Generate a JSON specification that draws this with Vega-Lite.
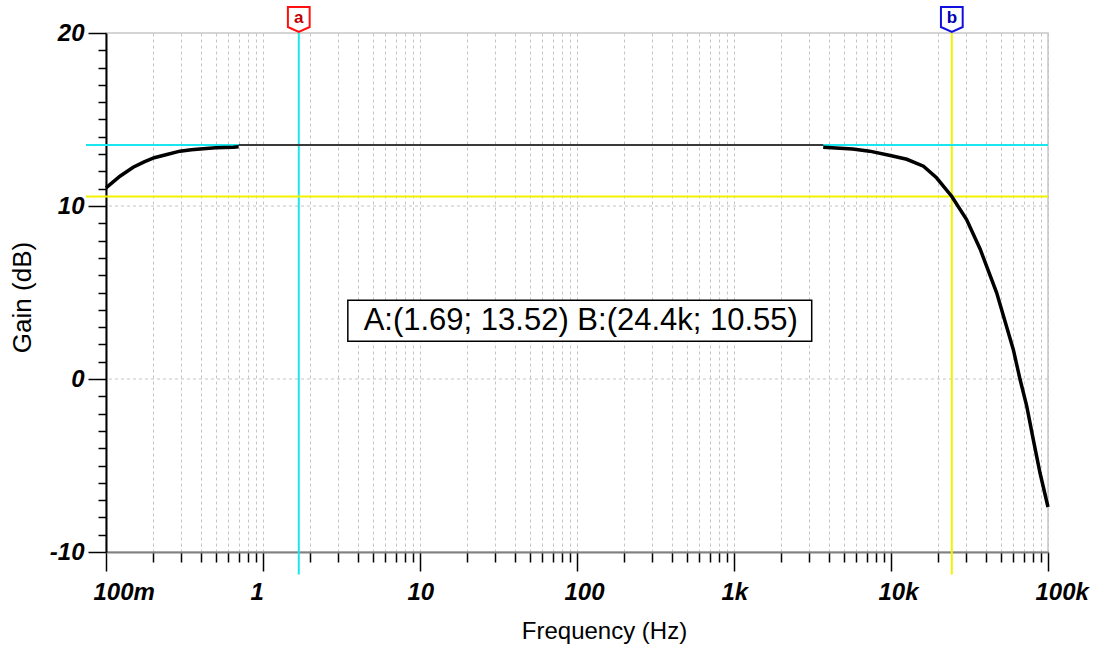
{
  "$schema": "https://vega.github.io/schema/vega-lite/v6.json",
  "autosize": "none",
  "width": 942,
  "height": 519,
  "padding": {"left": 106, "top": 33, "right": 46, "bottom": 96},
  "background": "white",
  "config": {
    "view": {"stroke": "#c8c8c8", "strokeWidth": 1.5},
    "font": "Liberation Sans"
  },
  "datasets": {
    "curve": [
      {"f": 0.1, "gain": 11.05, "part": "low"},
      {"f": 0.1227, "gain": 11.72, "part": "low"},
      {"f": 0.149, "gain": 12.24, "part": "low"},
      {"f": 0.175, "gain": 12.55, "part": "low"},
      {"f": 0.203, "gain": 12.79, "part": "low"},
      {"f": 0.244, "gain": 12.98, "part": "low"},
      {"f": 0.296, "gain": 13.17, "part": "low"},
      {"f": 0.35, "gain": 13.25, "part": "low"},
      {"f": 0.397, "gain": 13.3, "part": "low"},
      {"f": 0.5, "gain": 13.36, "part": "low"},
      {"f": 0.647, "gain": 13.4, "part": "low"},
      {"f": 0.7, "gain": 13.42, "part": "low"},
      {"f": 0.7, "gain": 13.52, "part": "mid"},
      {"f": 1.69, "gain": 13.52, "part": "mid"},
      {"f": 100, "gain": 13.52, "part": "mid"},
      {"f": 1000, "gain": 13.52, "part": "mid"},
      {"f": 3700, "gain": 13.52, "part": "mid"},
      {"f": 3700, "gain": 13.4, "part": "high"},
      {"f": 5700, "gain": 13.3, "part": "high"},
      {"f": 7300, "gain": 13.17, "part": "high"},
      {"f": 9900, "gain": 12.92, "part": "high"},
      {"f": 12600, "gain": 12.7, "part": "high"},
      {"f": 16100, "gain": 12.3, "part": "high"},
      {"f": 19500, "gain": 11.63, "part": "high"},
      {"f": 24400, "gain": 10.55, "part": "high"},
      {"f": 30300, "gain": 9.22, "part": "high"},
      {"f": 37000, "gain": 7.5, "part": "high"},
      {"f": 47100, "gain": 4.98, "part": "high"},
      {"f": 60100, "gain": 1.71, "part": "high"},
      {"f": 66400, "gain": -0.03, "part": "high"},
      {"f": 73200, "gain": -1.57, "part": "high"},
      {"f": 80600, "gain": -3.5, "part": "high"},
      {"f": 88900, "gain": -5.42, "part": "high"},
      {"f": 100000, "gain": -7.4, "part": "high"}
    ],
    "cursors": [
      {"cursor": "a", "f": 1.69, "gain": 13.52},
      {"cursor": "b", "f": 24400, "gain": 10.55}
    ],
    "hgrid": [
      {"gain": 0},
      {"gain": 10}
    ]
  },
  "layer": [
    {
      "data": {"name": "curve"},
      "transform": [{"filter": "datum.part == 'mid'"}],
      "mark": {"type": "line", "color": "#3a3a3a", "strokeWidth": 2, "opacity": 0},
      "encoding": {
        "x": {
          "field": "f", "type": "quantitative",
          "scale": {"type": "log", "domain": [0.1, 100000], "nice": false},
          "axis": {
            "title": "Frequency (Hz)",
            "values": [0.1,0.2,0.3,0.4,0.5,0.6,0.7,0.8,0.9,1,2,3,4,5,6,7,8,9,10,20,30,40,50,60,70,80,90,100,200,300,400,500,600,700,800,900,1000,2000,3000,4000,5000,6000,7000,8000,9000,10000,20000,30000,40000,50000,60000,70000,80000,90000,100000],
            "labelExpr": "abs(log(datum.value)/LN10 - round(log(datum.value)/LN10)) < 0.001 ? (datum.value < 0.5 ? '100m' : datum.value >= 1000 ? format(datum.value/1000, 'd') + 'k' : format(datum.value, 'd')) : ''",
            "labelOverlap": false,
            "labelBound": false,
            "labelFlush": false,
            "labelAlign": "left",
            "labelOffset": -13,
            "labelFont": "Liberation Sans",
            "labelFontSize": 24,
            "labelFontWeight": "bold",
            "labelFontStyle": "italic",
            "labelColor": "black",
            "labelPadding": 9,
            "tickColor": "black",
            "tickWidth": 1.5,
            "tickSize": {"condition": {"test": "abs(log(datum.value)/LN10 - round(log(datum.value)/LN10)) < 0.001", "value": 19}, "value": 10},
            "domainColor": "#808080",
            "domainWidth": 2,
            "grid": true,
            "gridColor": "#c4c4c4",
            "gridDash": [3, 3],
            "gridWidth": 1,
            "titleFont": "Liberation Sans",
            "titleFontSize": 24,
            "titleFontWeight": "normal",
            "titleColor": "black",
            "titleX": 498,
            "titleY": 86,
            "titleBaseline": "alphabetic",
            "titleAlign": "center"
          }
        },
        "y": {
          "field": "gain", "type": "quantitative",
          "scale": {"domain": [-10, 20], "nice": false, "zero": false},
          "axis": {
            "title": "Gain (dB)",
            "tickCount": 30,
            "labelExpr": "(datum.value % 10 === 0) ? (datum.value < 0 ? '-' + format(-datum.value, 'd') : format(datum.value, 'd')) : ''",
            "labelOverlap": false,
            "labelBound": false,
            "labelFlush": false,
            "labelFont": "Liberation Sans",
            "labelFontSize": 24,
            "labelFontWeight": "bold",
            "labelFontStyle": "italic",
            "labelColor": "black",
            "labelPadding": 4,
            "tickColor": "black",
            "tickWidth": 1.5,
            "tickSize": {"condition": {"test": "datum.value % 10 === 0", "value": 18}, "value": 8},
            "domainColor": "black",
            "domainWidth": 2,
            "grid": false,
            "titleFont": "Liberation Sans",
            "titleFontSize": 26,
            "titleFontWeight": "normal",
            "titleColor": "black",
            "titleAngle": -90,
            "titleX": -76,
            "titleY": 264,
            "titleBaseline": "alphabetic",
            "titleAlign": "center"
          }
        }
      }
    },
    {
      "data": {"name": "hgrid"},
      "mark": {"type": "rule", "color": "#c4c4c4", "strokeWidth": 1, "strokeDash": [3, 3]},
      "encoding": {
        "y": {"field": "gain", "type": "quantitative"}
      }
    },
    {
      "data": {"name": "cursors"},
      "mark": {"type": "rule", "strokeWidth": 2, "clip": false},
      "encoding": {
        "x": {"field": "f", "type": "quantitative"},
        "y": {"datum": 20, "type": "quantitative"},
        "y2": {"datum": -11.3},
        "color": {"condition": {"test": "datum.cursor == 'a'", "value": "#19e6ee"}, "value": "#f2f200"}
      }
    },
    {
      "data": {"name": "cursors"},
      "mark": {"type": "rule", "strokeWidth": 2, "clip": false},
      "encoding": {
        "y": {"field": "gain", "type": "quantitative"},
        "x": {"datum": 0.0746, "type": "quantitative"},
        "x2": {"datum": 100000},
        "color": {"condition": {"test": "datum.cursor == 'a'", "value": "#19e6ee"}, "value": "#f2f200"}
      }
    },
    {
      "data": {"name": "curve"},
      "transform": [{"filter": "datum.part == 'mid'"}],
      "mark": {"type": "line", "color": "#3a3a3a", "strokeWidth": 2},
      "encoding": {
        "x": {"field": "f", "type": "quantitative"},
        "y": {"field": "gain", "type": "quantitative"}
      }
    },
    {
      "data": {"name": "curve"},
      "transform": [{"filter": "datum.part != 'mid'"}],
      "mark": {"type": "line", "color": "black", "strokeWidth": 3.5},
      "encoding": {
        "x": {"field": "f", "type": "quantitative"},
        "y": {"field": "gain", "type": "quantitative"},
        "detail": {"field": "part"}
      }
    },
    {
      "data": {"values": [{"label": "A:(1.69; 13.52) B:(24.4k; 10.55)"}]},
      "mark": {"type": "rect", "fill": "white", "stroke": "black", "strokeWidth": 1.5},
      "encoding": {
        "x": {"datum": 3.47, "type": "quantitative"},
        "x2": {"datum": 3126},
        "y": {"datum": 4.55, "type": "quantitative"},
        "y2": {"datum": 2.18}
      }
    },
    {
      "data": {"values": [{"label": "A:(1.69; 13.52) B:(24.4k; 10.55)"}]},
      "mark": {"type": "text", "font": "Liberation Sans", "fontSize": 31, "align": "center", "baseline": "alphabetic", "color": "black"},
      "encoding": {
        "x": {"datum": 105.7, "type": "quantitative"},
        "y": {"datum": 2.86, "type": "quantitative"},
        "text": {"field": "label"}
      }
    },
    {
      "data": {"name": "cursors"},
      "mark": {"type": "point", "filled": true, "fill": "white", "strokeWidth": 2, "size": 625, "opacity": 1, "clip": false, "yOffset": -13.5,
        "shape": "M-0.87,-1L0.87,-1L0.87,0.6L0,1L-0.87,0.6Z"},
      "encoding": {
        "x": {"field": "f", "type": "quantitative"},
        "y": {"datum": 20, "type": "quantitative"},
        "stroke": {"condition": {"test": "datum.cursor == 'a'", "value": "#ff1010"}, "value": "#1010e0"}
      }
    },
    {
      "data": {"name": "cursors"},
      "mark": {"type": "text", "font": "Liberation Sans", "fontSize": 17, "fontWeight": "bold", "align": "center", "baseline": "middle", "clip": false, "yOffset": -15},
      "encoding": {
        "x": {"field": "f", "type": "quantitative"},
        "y": {"datum": 20, "type": "quantitative"},
        "text": {"field": "cursor"},
        "color": {"condition": {"test": "datum.cursor == 'a'", "value": "#c00000"}, "value": "#0000b0"}
      }
    }
  ]
}
